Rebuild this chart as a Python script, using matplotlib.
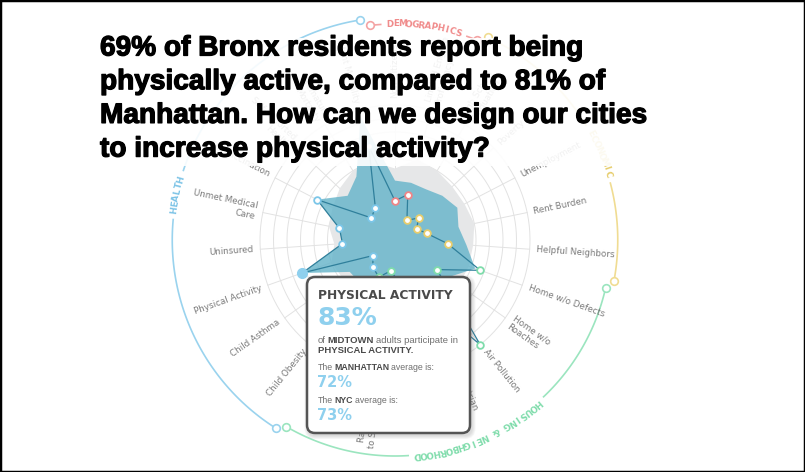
import numpy as np
import matplotlib.pyplot as plt
import matplotlib.patheffects as pe
from matplotlib.patches import FancyBboxPatch, Rectangle

# --- data -------------------------------------------------------------
indicators = ['Non-Citizens', 'Limited English\nProficiency', 'High School\nGraduation',
              'Poverty', 'Unemployment', 'Rent Burden', 'Helpful Neighbors',
              'Home w/o Defects', 'Home w/o\nRoaches', 'Air Pollution',
              'Pedestrian\nInjury', 'Access to\nParks', 'Ratio Bodegas\nto Supermarket',
              'Assault\nRates', 'Child Obesity', 'Child Asthma', 'Physical Activity',
              'Uninsured', 'Unmet Medical\nCare', 'Flu Vaccination', 'Self-Reported\nHealth',
              'Premature\nMortality', 'Infant Mortality']
group_names = ['DEMOGRAPHICS', 'ECONOMIC', 'HOUSING & NEIGHBORHOOD', 'HEALTH']
group_sizes = [2, 5, 7, 9]

nyc = [53, 62, 60, 58, 58, 60, 58, 58, 58, 58, 55, 55, 55, 55,
       50, 48, 50, 45, 50, 52, 56, 60, 60]
manhattan = [44, 44, 44, 48, 52, 48, 53, 63, 48, 60, 55, 55, 50, 50,
             41, 41, 73, 39, 42, 65, 48, 55, 95]
midtown = [29, 35, 17, 24, 18, 24, 39, 67, 38, 100, 42, 34, 23, 30,
           26, 20, 73, 39, 42, 65, 24, 28, 72]
highlight = 16

title_lines = ['69% of Bronx residents report being',
               'physically active, compared to 81% of',
               'Manhattan. How can we design our cities',
               'to increase physical activity?']

# colours
arc_colors = ['#f4a3a3', '#f0dc92', '#9be5bf', '#9ad3ee']
dot_colors = ['#ef8587', '#e8cd6c', '#7fdcab', '#7cc6e8']
text_colors = ['#f08a8a', '#e6cc6a', '#7fdcab', '#7cc3e6']
title_shift = [0, 4.5, 0, 0]  # degrees, where the group name sits on its arc

W, H = 805, 472
fig = plt.figure(figsize=(W / 100, H / 100), dpi=100)

# radar in a polar axes: 100 units = 135 px
cx, cy, R = 395, 240, 240
scale = 1.35
ax = fig.add_axes([(cx - R) / W, 1 - (cy + R) / H, 2 * R / W, 2 * R / H], projection='polar')
ax.set_theta_zero_location('N')
ax.set_theta_direction(-1)
ax.set_ylim(0, R / scale)
ax.set_axis_off()

n = len(indicators)
step = 2 * np.pi / n
angles = np.arange(n) * step
closed = np.append(angles, angles[0])
group_of = np.repeat(np.arange(4), group_sizes)

# grid
ring = np.linspace(0, 2 * np.pi, 400)
for r in range(10, 101, 10):
    ax.plot(ring, np.full_like(ring, r), color='#e2e2e2', lw=0.7, zorder=1)
for a in angles:
    ax.plot([a, a], [10, 100], color='#e2e2e2', lw=0.7, zorder=1)

# series
ax.fill(closed, np.append(nyc, nyc[0]), color='#e6e7e8', zorder=2, lw=0)
ax.fill(closed, np.append(manhattan, manhattan[0]), color='#63b3c9', alpha=0.8, zorder=3, lw=0)
ax.plot(closed, np.append(midtown, midtown[0]), color='#2f7f9b', lw=0.9, zorder=4)
for i, (a, v) in enumerate(zip(angles, midtown)):
    g = group_of[i]
    if i == highlight:
        ax.plot(a, v, 'o', ms=7, mfc='#8fd0ee', mec='#8fd0ee', zorder=6)
    else:
        ax.plot(a, v, 'o', ms=4.8, mfc='white', mec=dot_colors[g], mew=1.3, zorder=5)

# indicator labels
for a, lab in zip(angles, indicators):
    deg = np.degrees(a)
    if deg < 180:
        rot, ha = 90 - deg, 'left'
    else:
        rot, ha = 270 - deg, 'right'
    ax.text(a, 105, lab, rotation=rot, rotation_mode='anchor', ha=ha, va='center',
            multialignment=ha, fontsize=6.3, color='#7a7a7a', zorder=7)

# category arcs with curved titles
gap = np.radians(1.1)
margin = np.radians(1.6)
char_px = 6.3
i0 = 0
for g, (name, size) in enumerate(zip(group_names, group_sizes)):
    r = 165 if g % 2 else 160
    a0 = angles[i0] - step / 2 + gap
    a1 = angles[i0 + size - 1] + step / 2 - gap
    mid = (a0 + a1) / 2 + np.radians(title_shift[g])
    dth = char_px / (r * scale)
    half = len(name) * dth / 2
    for s, e in [(a0, mid - half - margin), (mid + half + margin, a1)]:
        t = np.linspace(s, e, 120)
        ax.plot(t, np.full_like(t, r), color=arc_colors[g], lw=1.2, zorder=2)
    ax.plot([a0, a1], [r, r], 'o', ls='none', ms=5.5, mfc='white', mec=arc_colors[g],
            mew=1.2, zorder=3)
    for k, ch in enumerate(name):
        th = mid + (k - (len(name) - 1) / 2) * dth
        ax.text(th, r, ch, rotation=-np.degrees(th), rotation_mode='anchor', ha='center',
                va='center', fontsize=6.3, fontweight='bold', color=text_colors[g], zorder=7)
    i0 += size

# --- overlay: title and tooltip --------------------------------------
ov = fig.add_axes([0, 0, 1, 1])
ov.set_xlim(0, W)
ov.set_ylim(H, 0)
ov.set_axis_off()

ov.add_patch(Rectangle((95, 38), 565, 128, fc='white', ec='none', alpha=0.9))
for k, line in enumerate(title_lines):
    ov.text(100, 55.5 + 33.7 * k, line, fontsize=20.2, fontweight='bold', color='black',
            family='Liberation Sans', va='baseline',
            path_effects=[pe.withStroke(linewidth=0.9, foreground='black')])

# tooltip
bx, by, bw, bh = 307, 277, 163, 156
for k in range(4):
    ov.add_patch(FancyBboxPatch((bx + 1.5, by + 2), bw, bh,
                                boxstyle=f'round,pad={k + 1},rounding_size={8 + k}',
                                fc='#777777', ec='none', alpha=0.07))
ov.add_patch(FancyBboxPatch((bx, by), bw, bh, boxstyle='round,pad=0,rounding_size=8',
                            fc='white', ec='#555555', lw=1.8))

renderer = fig.canvas.get_renderer()


def rich(x, y, parts, size):
    for txt, bold, col in parts:
        t = ov.text(x, y, txt, fontsize=size, fontweight='bold' if bold else 'normal',
                    color=col, family='Liberation Sans', va='baseline')
        x += t.get_window_extent(renderer).width + 1.6


dark, grey, blue = '#4a4a4a', '#707070', '#8fd0ee'
ov.text(318, 299, 'PHYSICAL ACTIVITY', fontsize=8.8, fontweight='bold', color=dark,
        va='baseline')
ov.text(317, 325, '83%', fontsize=18, fontweight='bold', color=blue, va='baseline')
rich(318, 343, [('of', False, grey), ('MIDTOWN', True, dark),
                ('adults participate in', False, grey)], 6.8)
rich(318, 353, [('PHYSICAL ACTIVITY.', True, dark)], 6.8)
rich(318, 370, [('The', False, grey), ('MANHATTAN', True, dark),
                ('average is:', False, grey)], 6.3)
ov.text(317, 387, '72%', fontsize=10.5, fontweight='bold', color=blue, va='baseline')
rich(318, 403, [('The', False, grey), ('NYC', True, dark), ('average is:', False, grey)], 6.3)
ov.text(317, 420, '73%', fontsize=10.5, fontweight='bold', color=blue, va='baseline')

fig.patches.append(Rectangle((0, 0), 1, 1, transform=fig.transFigure, fill=False,
                             ec='black', lw=2.5))

fig.savefig('out.png', dpi=100)
